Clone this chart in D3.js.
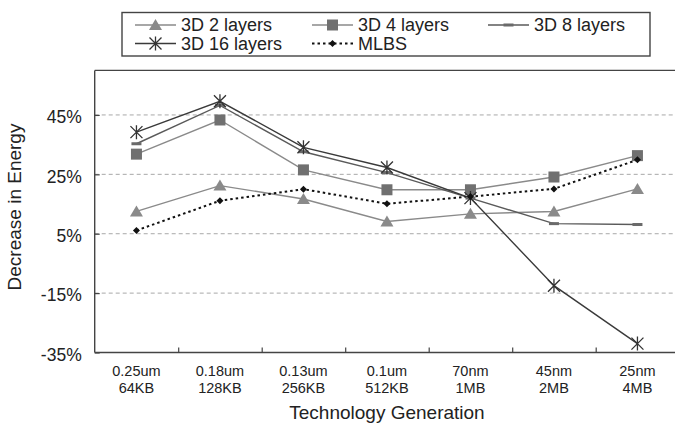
<!DOCTYPE html>
<html><head><meta charset="utf-8">
<script src="https://cdn.jsdelivr.net/npm/d3@7/dist/d3.min.js"></script>
<style>
html,body{margin:0;padding:0;background:#fff;}
svg{display:block;font-family:"Liberation Sans",Arial,Helvetica,sans-serif;}
</style></head>
<body>
<svg id="chart" width="675" height="426"></svg>
<script>
const categories = [["0.25um","64KB"],["0.18um","128KB"],["0.13um","256KB"],["0.1um","512KB"],["70nm","1MB"],["45nm","2MB"],["25nm","4MB"]];
const yTicks = [-35,-15,5,25,45];
const gridTicks = [-15,5,25,45];
const s2 = [12.5, 21.2, 16.7, 9.1, 11.7, 12.5, 20.1];
const s4 = [31.8, 43.3, 26.5, 19.8, 19.8, 24.1, 31.3];
const s8 = [35.3, 48.2, 32.6, 25.6, 17.0, 8.4, 8.1];
const s16 = [39.2, 49.6, 34.1, 27.3, 17.0, -12.5, -32.0];
const mlbs = [6.1, 16.1, 20.0, 15.1, 17.5, 20.1, 29.9];
const seriesNames = ["3D 2 layers","3D 4 layers","3D 8 layers","3D 16 layers","MLBS"];

const svg = d3.select("#chart");
const left = 94.7, bottom = 352.5, band = 83.5;
const x = d3.scaleBand().domain(categories.map((d,i)=>i)).range([left, left + band*categories.length]).padding(0);
const y = d3.scaleLinear().domain([-35, 60]).range([bottom, 70.4]);
const cx = i => x(i) + x.bandwidth()/2;

// gridlines
svg.append("g").selectAll("line").data(gridTicks).join("line")
  .attr("x1", left).attr("x2", 675).attr("y1", d=>y(d)).attr("y2", d=>y(d))
  .attr("stroke", "#a8a8a8").attr("stroke-width", 1).attr("stroke-dasharray", "4,3");

// frame: top
svg.append("line").attr("x1", left).attr("x2", 675).attr("y1", y(60)).attr("y2", y(60)).attr("stroke", "#444").attr("stroke-width", 1.4);

// y axis
const yAxis = d3.axisLeft(y).tickValues(yTicks).tickSize(-5).tickFormat(d=>d+"%").tickPadding(13);
const gy = svg.append("g").attr("transform", `translate(${left},0)`).call(yAxis);
gy.select(".domain").attr("stroke", "#444").attr("stroke-width", 1.4).attr("d", `M0,${y(60)}V${bottom}`);
gy.selectAll(".tick line").attr("stroke", "#444").attr("stroke-width", 1.2);
gy.selectAll(".tick text").attr("font-size", 17.5).attr("fill", "#222").attr("dy", "0.45em")
  .attr("font-family", "Liberation Sans, Arial, sans-serif");

// x axis
const xb = d3.scaleLinear().domain([0, categories.length]).range([left, left + band*categories.length]);
const gx = svg.append("g").attr("transform", `translate(0,${bottom})`)
  .call(d3.axisBottom(xb).tickValues(d3.range(1, categories.length)).tickSize(-5).tickFormat(""));
gx.select(".domain").attr("stroke", "#444").attr("stroke-width", 1.4).attr("d", `M${left},0H675`);
gx.selectAll(".tick line").attr("stroke", "#444").attr("stroke-width", 1.2);

const xl = svg.append("g").selectAll("text").data(categories).join("text")
  .attr("x", (d,i)=>cx(i)).attr("y", 375.5).attr("text-anchor", "middle")
  .attr("font-size", 14.5).attr("fill", "#222");
xl.append("tspan").attr("x", (d,i)=>cx(i)).text(d=>d[0]);
xl.append("tspan").attr("x", (d,i)=>cx(i)).attr("dy", 17.8).text(d=>d[1]);

// axis titles
svg.append("text").attr("x", 387).attr("y", 419).attr("text-anchor", "middle").attr("font-size", 19).attr("fill", "#222").text("Technology Generation");
svg.append("text").attr("transform", "translate(21,207) rotate(-90)").attr("text-anchor", "middle").attr("font-size", 19).attr("fill", "#222").text("Decrease in Energy");

// marker drawers
function tri(g, px, py, c){ g.append("path").attr("d", `M${px},${py-6}L${px+6.5},${py+5}L${px-6.5},${py+5}Z`).attr("fill", c); }
function sq(g, px, py, c){ g.append("rect").attr("x", px-5.5).attr("y", py-5.5).attr("width", 11).attr("height", 11).attr("fill", c); }
function dash(g, px, py, c){ g.append("rect").attr("x", px-5).attr("y", py-1.5).attr("width", 10).attr("height", 3).attr("fill", c); }
function star(g, px, py, c){ const r=6; g.append("path").attr("d", `M${px-r},${py-r}L${px+r},${py+r}M${px+r},${py-r}L${px-r},${py+r}M${px},${py-r-1}L${px},${py+r+1}`).attr("stroke", c).attr("stroke-width", 1.3).attr("fill","none"); }
function diam(g, px, py, c){ g.append("path").attr("d", `M${px},${py-3.5}L${px+3.5},${py}L${px},${py+3.5}L${px-3.5},${py}Z`).attr("fill", c); }

const series = [
  {name: seriesNames[0], vals: s2, line: "#8a8a8a", mark: "#8a8a8a", m: tri, dashArr: null, w: 1.4},
  {name: seriesNames[1], vals: s4, line: "#8a8a8a", mark: "#707070", m: sq, dashArr: null, w: 1.4},
  {name: seriesNames[2], vals: s8, line: "#5a5a5a", mark: "#6a6a6a", m: dash, dashArr: null, w: 1.4},
  {name: seriesNames[3], vals: s16, line: "#3a3a3a", mark: "#333", m: star, dashArr: null, w: 1.4},
  {name: seriesNames[4], vals: mlbs, line: "#111", mark: "#111", m: diam, dashArr: "2.5,3", w: 2}
];
const lineGen = d3.line().x((d,i)=>cx(i)).y(d=>y(d));
const plot = svg.append("g");
series.forEach(s=>{
  const p = plot.append("path").datum(s.vals).attr("d", lineGen).attr("fill", "none").attr("stroke", s.line).attr("stroke-width", s.w);
  if (s.dashArr) p.attr("stroke-dasharray", s.dashArr);
});
series.forEach(s=>{
  const g = plot.append("g");
  s.vals.forEach((v,i)=> s.m(g, cx(i), y(v), s.mark));
});

// legend
const lg = svg.append("g");
lg.append("rect").attr("x", 122).attr("y", 12.5).attr("width", 528).attr("height", 43.5).attr("fill", "#fff").attr("stroke", "#444").attr("stroke-width", 1.4);
const legPos = [[135,25],[312,25],[488,25],[135,43.5],[312,43.5]];
series.forEach((s,k)=>{
  const [lx, ly] = legPos[k];
  const g = lg.append("g");
  const ln = g.append("line").attr("x1", lx).attr("x2", lx+41).attr("y1", ly).attr("y2", ly).attr("stroke", s.line).attr("stroke-width", s.w);
  if (s.dashArr) ln.attr("stroke-dasharray", s.dashArr);
  s.m(g, lx+20.5, ly, s.mark);
  g.append("text").attr("x", lx+46).attr("y", ly).attr("dy", "0.36em").attr("font-size", 18).attr("fill", "#222").text(s.name);
});
</script>
</body></html>
